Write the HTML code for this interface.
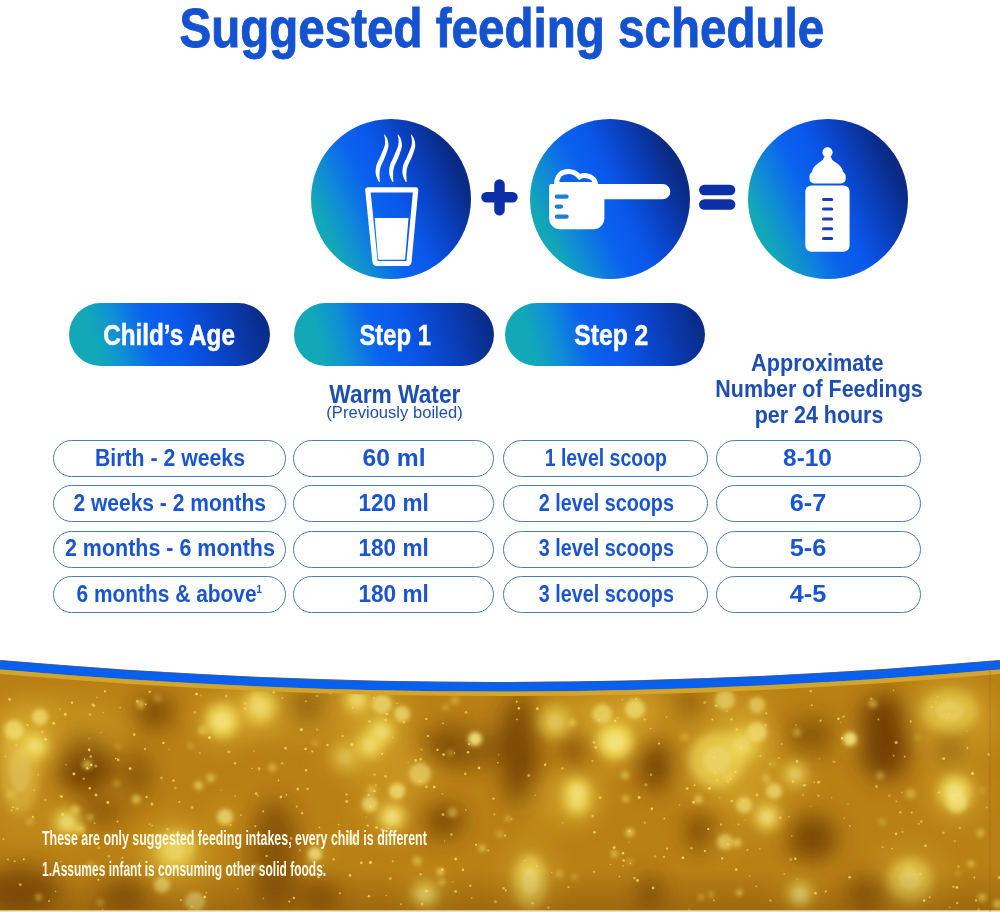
<!DOCTYPE html>
<html><head><meta charset="utf-8">
<style>
*{margin:0;padding:0;box-sizing:border-box}
html,body{width:1000px;height:912px;overflow:hidden;background:#fff}
body{position:relative;font-family:"Liberation Sans",Arial,sans-serif}
.abs{position:absolute}
.c{position:absolute;width:1000px;text-align:center;white-space:nowrap;line-height:1;font-weight:bold}
.c>span{display:inline-block;transform-origin:50% 50%}
.title{color:#1552cf;-webkit-text-stroke:0.9px #1552cf}
.ptxt{color:#fff;-webkit-text-stroke:0.5px #fff}
.sub{color:#1e4fb0}
.ctxt{color:#1a55d0}
.ctxt sup{font-size:11px;vertical-align:9px}
.circ{position:absolute;width:160px;height:160px;border-radius:50%;
 background:linear-gradient(65deg,#12a8b8 15.9%,#1088d8 28.2%,#0a62ee 41.8%,#0a58ea 53.4%,#0a42c4 67%,#0a2a84 84.1%)}
.pill{position:absolute;height:62.5px;border-radius:32px;top:303.4px;
 background:linear-gradient(75deg,#12a8b8 15%,#1090d4 26%,#0a62ee 40.8%,#0a58ea 54.6%,#0a42c4 73.1%,#0a2a84 96.1%)}
.cell{position:absolute;height:37px;border:1.7px solid #4f7cae;border-radius:19px;background:#fff}
.gold{position:absolute;left:0;top:640px;width:1000px;height:272px}
.foot{position:absolute;left:42px;color:#fffbe8;font-weight:bold;font-size:20.7px;line-height:1;white-space:nowrap;transform-origin:0 50%}
</style></head><body>

<div class="circ" style="left:311.4px;top:118.9px"></div>
<div class="circ" style="left:529.9px;top:118.9px"></div>
<div class="circ" style="left:747.8px;top:119.4px"></div>

<svg class="abs" style="left:0;top:0" width="1000" height="300" viewBox="0 0 1000 300">
 <!-- plus / equals -->
 <g stroke="#0c2fa8" stroke-width="10.5" stroke-linecap="round" fill="none">
  <line x1="486.5" y1="197.3" x2="512.5" y2="197.3"/>
  <line x1="499.5" y1="184.5" x2="499.5" y2="210.2"/>
  <line x1="704.3" y1="190" x2="730.1" y2="190"/>
  <line x1="704.3" y1="204.5" x2="730.1" y2="204.5"/>
 </g>
 <!-- glass -->
 <path d="M367.8,189.8 L415.7,189.8 L409,261.5 Q408.7,263.5 406.5,263.5 L377.5,263.5 Q375.3,263.5 375,261.5 Z" fill="none" stroke="#fff" stroke-width="5.2" stroke-linejoin="round"/>
 <path d="M374.7,218 L408.5,218 L405.2,258.5 Q405,259.8 403.8,259.8 L379.4,259.8 Q378.2,259.8 378,258.5 Z" fill="#fff"/>
 <path d="M384.57,134.47 L384.81,134.80 L385.15,135.25 L385.56,135.79 L385.99,136.39 L386.40,137.04 L386.75,137.69 L387.04,138.34 L387.31,139.02 L387.54,139.71 L387.76,140.42 L387.94,141.14 L388.09,141.86 L388.22,142.58 L388.32,143.30 L388.39,144.03 L388.43,144.78 L388.43,145.54 L388.38,146.30 L388.29,147.02 L388.17,147.71 L388.01,148.37 L387.81,149.06 L387.57,149.82 L387.27,150.72 L386.90,151.81 L386.46,153.05 L385.97,154.39 L385.45,155.77 L384.91,157.16 L384.36,158.50 L383.78,159.82 L383.15,161.15 L382.52,162.45 L381.93,163.68 L381.42,164.80 L381.01,165.78 L380.71,166.64 L380.47,167.41 L380.29,168.14 L380.14,168.84 L380.01,169.54 L379.88,170.26 L379.78,170.93 L379.71,171.53 L379.67,172.10 L379.63,172.67 L379.61,173.25 L379.59,173.85 L379.58,174.45 L379.58,175.06 L379.59,175.70 L379.62,176.35 L379.64,177.03 L379.67,177.70 L379.69,178.43 L379.72,179.22 L379.75,180.03 L379.79,180.79 L379.82,181.44 L379.84,181.90 L379.16,182.10 L378.94,181.69 L378.61,181.13 L378.24,180.47 L377.84,179.74 L377.46,179.00 L377.13,178.30 L376.86,177.64 L376.60,176.98 L376.36,176.30 L376.14,175.60 L375.95,174.88 L375.81,174.15 L375.70,173.44 L375.64,172.74 L375.61,172.02 L375.61,171.29 L375.65,170.52 L375.72,169.74 L375.79,168.96 L375.87,168.16 L376.00,167.29 L376.18,166.35 L376.43,165.33 L376.79,164.22 L377.26,163.02 L377.82,161.76 L378.44,160.47 L379.07,159.19 L379.68,157.92 L380.24,156.70 L380.78,155.45 L381.34,154.12 L381.90,152.79 L382.43,151.50 L382.91,150.31 L383.33,149.28 L383.67,148.43 L383.94,147.74 L384.16,147.18 L384.33,146.69 L384.48,146.23 L384.62,145.70 L384.76,145.13 L384.87,144.55 L384.96,143.97 L385.03,143.37 L385.08,142.75 L385.11,142.14 L385.11,141.51 L385.10,140.87 L385.06,140.21 L385.00,139.56 L384.93,138.92 L384.85,138.31 L384.75,137.68 L384.60,137.00 L384.44,136.31 L384.28,135.67 L384.13,135.13 L384.03,134.73 Z" fill="#fff"/>
 <path d="M398.07,134.47 L398.31,134.80 L398.65,135.25 L399.06,135.79 L399.49,136.39 L399.90,137.04 L400.25,137.69 L400.54,138.34 L400.81,139.02 L401.04,139.71 L401.26,140.42 L401.44,141.14 L401.59,141.86 L401.72,142.58 L401.82,143.30 L401.89,144.03 L401.93,144.78 L401.93,145.54 L401.88,146.30 L401.79,147.02 L401.67,147.71 L401.51,148.37 L401.31,149.06 L401.07,149.82 L400.77,150.72 L400.40,151.81 L399.96,153.05 L399.47,154.39 L398.95,155.77 L398.41,157.16 L397.86,158.50 L397.28,159.82 L396.65,161.15 L396.02,162.45 L395.43,163.68 L394.92,164.80 L394.51,165.78 L394.21,166.64 L393.97,167.41 L393.79,168.14 L393.64,168.84 L393.51,169.54 L393.38,170.26 L393.28,170.93 L393.21,171.53 L393.17,172.10 L393.13,172.67 L393.11,173.25 L393.09,173.85 L393.08,174.45 L393.08,175.06 L393.09,175.70 L393.12,176.35 L393.14,177.03 L393.17,177.70 L393.19,178.43 L393.22,179.22 L393.25,180.03 L393.29,180.79 L393.32,181.44 L393.34,181.90 L392.66,182.10 L392.44,181.69 L392.11,181.13 L391.74,180.47 L391.34,179.74 L390.96,179.00 L390.63,178.30 L390.36,177.64 L390.10,176.98 L389.86,176.30 L389.64,175.60 L389.45,174.88 L389.31,174.15 L389.20,173.44 L389.14,172.74 L389.11,172.02 L389.11,171.29 L389.15,170.52 L389.22,169.74 L389.29,168.96 L389.37,168.16 L389.50,167.29 L389.68,166.35 L389.93,165.33 L390.29,164.22 L390.76,163.02 L391.32,161.76 L391.94,160.47 L392.57,159.19 L393.18,157.92 L393.74,156.70 L394.28,155.45 L394.84,154.12 L395.40,152.79 L395.93,151.50 L396.41,150.31 L396.83,149.28 L397.17,148.43 L397.44,147.74 L397.66,147.18 L397.83,146.69 L397.98,146.23 L398.12,145.70 L398.26,145.13 L398.37,144.55 L398.46,143.97 L398.53,143.37 L398.58,142.75 L398.61,142.14 L398.61,141.51 L398.60,140.87 L398.56,140.21 L398.50,139.56 L398.43,138.92 L398.35,138.31 L398.25,137.68 L398.10,137.00 L397.94,136.31 L397.78,135.67 L397.63,135.13 L397.53,134.73 Z" fill="#fff"/>
 <path d="M411.37,134.47 L411.61,134.80 L411.95,135.25 L412.36,135.79 L412.79,136.39 L413.20,137.04 L413.55,137.69 L413.84,138.34 L414.11,139.02 L414.34,139.71 L414.56,140.42 L414.74,141.14 L414.89,141.86 L415.02,142.58 L415.12,143.30 L415.19,144.03 L415.23,144.78 L415.23,145.54 L415.18,146.30 L415.09,147.02 L414.97,147.71 L414.81,148.37 L414.61,149.06 L414.37,149.82 L414.07,150.72 L413.70,151.81 L413.26,153.05 L412.77,154.39 L412.25,155.77 L411.71,157.16 L411.16,158.50 L410.58,159.82 L409.95,161.15 L409.32,162.45 L408.73,163.68 L408.22,164.80 L407.81,165.78 L407.51,166.64 L407.27,167.41 L407.09,168.14 L406.94,168.84 L406.81,169.54 L406.68,170.26 L406.58,170.93 L406.51,171.53 L406.47,172.10 L406.43,172.67 L406.41,173.25 L406.39,173.85 L406.38,174.45 L406.38,175.06 L406.39,175.70 L406.42,176.35 L406.44,177.03 L406.47,177.70 L406.49,178.43 L406.52,179.22 L406.55,180.03 L406.59,180.79 L406.62,181.44 L406.64,181.90 L405.96,182.10 L405.74,181.69 L405.41,181.13 L405.04,180.47 L404.64,179.74 L404.26,179.00 L403.93,178.30 L403.66,177.64 L403.40,176.98 L403.16,176.30 L402.94,175.60 L402.75,174.88 L402.61,174.15 L402.50,173.44 L402.44,172.74 L402.41,172.02 L402.41,171.29 L402.45,170.52 L402.52,169.74 L402.59,168.96 L402.67,168.16 L402.80,167.29 L402.98,166.35 L403.23,165.33 L403.59,164.22 L404.06,163.02 L404.62,161.76 L405.24,160.47 L405.87,159.19 L406.48,157.92 L407.04,156.70 L407.58,155.45 L408.14,154.12 L408.70,152.79 L409.23,151.50 L409.71,150.31 L410.13,149.28 L410.47,148.43 L410.74,147.74 L410.96,147.18 L411.13,146.69 L411.28,146.23 L411.42,145.70 L411.56,145.13 L411.67,144.55 L411.76,143.97 L411.83,143.37 L411.88,142.75 L411.91,142.14 L411.91,141.51 L411.90,140.87 L411.86,140.21 L411.80,139.56 L411.73,138.92 L411.65,138.31 L411.55,137.68 L411.40,137.00 L411.24,136.31 L411.08,135.67 L410.93,135.13 L410.83,134.73 Z" fill="#fff"/>
 <!-- scoop -->
 <path d="M556.5,184.5 C556.5,176 561,171.6 568.5,171.6 C573.5,171.6 577,174 579.5,176.8 C581.5,175.6 583.5,175.3 586.5,175.8 C592,176.7 595.5,180 595.5,184.5 Z" fill="#0a66e6" stroke="#fff" stroke-width="5"/>
 <path d="M551,184.1 L603,184.1 L603,184.1 L662.7,184.1 A7.55,7.55 0 0 1 662.7,199.2 L604.4,199.2 L604.4,218.3 A11,11 0 0 1 593.4,229.3 L560.1,229.3 A11,11 0 0 1 549.1,218.3 L549.1,186 Q549.1,184.1 551,184.1 Z" fill="#fff"/>
 <g stroke="#1f7fcf" stroke-width="4.2" stroke-linecap="round">
  <line x1="556.8" y1="196.7" x2="566.6" y2="196.7"/>
  <line x1="556.8" y1="206.6" x2="561" y2="206.6"/>
  <line x1="556.8" y1="216.7" x2="566.6" y2="216.7"/>
 </g>
 <!-- bottle -->
 <rect x="805.3" y="185.4" width="44.3" height="66.4" rx="6" fill="#fff"/>
 <rect x="809.5" y="171.6" width="36.2" height="11.8" rx="4.5" fill="#fff"/>
 <path d="M824,156.5 C824,160.5 820,161.5 816.5,164.5 C813.5,167 812,169.5 812,173 L843,173 C843,169.5 841.5,167 838.5,164.5 C835,161.5 831,160.5 831,156.5 Z" fill="#fff"/>
 <circle cx="827.5" cy="152.3" r="5.1" fill="#fff"/>
 <g stroke="#1a3cbc" stroke-width="3" stroke-linecap="round">
  <line x1="823.5" y1="199.5" x2="831.7" y2="199.5"/>
  <line x1="823.5" y1="209.1" x2="831.7" y2="209.1"/>
  <line x1="823.5" y1="219" x2="831.7" y2="219"/>
  <line x1="823.5" y1="228.8" x2="831.7" y2="228.8"/>
  <line x1="823.5" y1="238.4" x2="831.7" y2="238.4"/>
 </g>
</svg>

<div class="pill" style="left:69.2px;width:200.8px"></div>
<div class="pill" style="left:294.2px;width:200.3px"></div>
<div class="pill" style="left:504.9px;width:200.1px"></div>

<div class="c title" style="left:1.5px;top:1.0px;font-size:55px"><span style="transform:scaleX(0.8645)">Suggested feeding schedule</span></div>
<div class="c ptxt" style="left:-331.1px;top:320.1px;font-size:29.5px"><span style="transform:scaleX(0.8228)">Child’s Age</span></div>
<div class="c ptxt" style="left:-105.0px;top:320.1px;font-size:29.5px"><span style="transform:scaleX(0.8092)">Step 1</span></div>
<div class="c ptxt" style="left:111.3px;top:320.1px;font-size:29.5px"><span style="transform:scaleX(0.8372)">Step 2</span></div>
<div class="c sub" style="left:-105.4px;top:381.2px;font-size:26px"><span style="transform:scaleX(0.8752)">Warm Water</span></div>
<div class="c sub" style="left:-105.8px;top:404.0px;font-size:17.4px;font-weight:normal"><span style="transform:scaleX(0.9532)">(Previously boiled)</span></div>
<div class="c sub" style="left:317.6px;top:350.6px;font-size:24px"><span style="transform:scaleX(0.9034)">Approximate</span></div>
<div class="c sub" style="left:318.9px;top:376.6px;font-size:24px"><span style="transform:scaleX(0.8939)">Number of Feedings</span></div>
<div class="c sub" style="left:319.0px;top:402.9px;font-size:24px"><span style="transform:scaleX(0.8936)">per 24 hours</span></div>
<div class="cell" style="left:52.5px;top:440.3px;width:233.0px"></div>
<div class="c ctxt" style="left:-330.0px;top:447.2px;font-size:23.5px"><span style="transform:scaleX(0.9049)">Birth - 2 weeks</span></div>
<div class="cell" style="left:293.4px;top:440.3px;width:200.6px"></div>
<div class="c ctxt" style="left:-105.9px;top:447.2px;font-size:23.5px"><span style="transform:scaleX(1.0491)">60 ml</span></div>
<div class="cell" style="left:503.4px;top:440.3px;width:204.6px"></div>
<div class="c ctxt" style="left:105.7px;top:447.2px;font-size:23.5px"><span style="transform:scaleX(0.8288)">1 level scoop</span></div>
<div class="cell" style="left:716.0px;top:440.3px;width:204.7px"></div>
<div class="c ctxt" style="left:307.7px;top:447.2px;font-size:23.5px"><span style="transform:scaleX(1.0378)">8-10</span></div>
<div class="cell" style="left:52.5px;top:485.2px;width:233.0px"></div>
<div class="c ctxt" style="left:-330.6px;top:492.0px;font-size:23.5px"><span style="transform:scaleX(0.8937)">2 weeks - 2 months</span></div>
<div class="cell" style="left:293.4px;top:485.2px;width:200.6px"></div>
<div class="c ctxt" style="left:-106.1px;top:492.0px;font-size:23.5px"><span style="transform:scaleX(0.9606)">120 ml</span></div>
<div class="cell" style="left:503.4px;top:485.2px;width:204.6px"></div>
<div class="c ctxt" style="left:105.9px;top:492.0px;font-size:23.5px"><span style="transform:scaleX(0.8415)">2 level scoops</span></div>
<div class="cell" style="left:716.0px;top:485.2px;width:204.7px"></div>
<div class="c ctxt" style="left:307.8px;top:492.0px;font-size:23.5px"><span style="transform:scaleX(1.0781)">6-7</span></div>
<div class="cell" style="left:52.5px;top:530.5px;width:233.0px"></div>
<div class="c ctxt" style="left:-330.4px;top:537.4px;font-size:23.5px"><span style="transform:scaleX(0.9134)">2 months - 6 months</span></div>
<div class="cell" style="left:293.4px;top:530.5px;width:200.6px"></div>
<div class="c ctxt" style="left:-106.1px;top:537.4px;font-size:23.5px"><span style="transform:scaleX(0.9606)">180 ml</span></div>
<div class="cell" style="left:503.4px;top:530.5px;width:204.6px"></div>
<div class="c ctxt" style="left:105.9px;top:537.4px;font-size:23.5px"><span style="transform:scaleX(0.8415)">3 level scoops</span></div>
<div class="cell" style="left:716.0px;top:530.5px;width:204.7px"></div>
<div class="c ctxt" style="left:307.8px;top:537.4px;font-size:23.5px"><span style="transform:scaleX(1.0781)">5-6</span></div>
<div class="cell" style="left:52.5px;top:575.6px;width:233.0px"></div>
<div class="c ctxt" style="left:-330.9px;top:582.5px;font-size:23.5px"><span style="transform:scaleX(0.8901)">6 months &amp; above<sup>1</sup></span></div>
<div class="cell" style="left:293.4px;top:575.6px;width:200.6px"></div>
<div class="c ctxt" style="left:-106.1px;top:582.5px;font-size:23.5px"><span style="transform:scaleX(0.9606)">180 ml</span></div>
<div class="cell" style="left:503.4px;top:575.6px;width:204.6px"></div>
<div class="c ctxt" style="left:105.9px;top:582.5px;font-size:23.5px"><span style="transform:scaleX(0.8415)">3 level scoops</span></div>
<div class="cell" style="left:716.0px;top:575.6px;width:204.7px"></div>
<div class="c ctxt" style="left:307.8px;top:582.5px;font-size:23.5px"><span style="transform:scaleX(1.0781)">4-5</span></div>

<svg class="gold" viewBox="0 640 1000 272" width="1000" height="272">
<defs><clipPath id="cl"><path d="M0 660 Q500 704 1000 660 L1000 912 L0 912 Z"/></clipPath><filter id="bd" x="-60%" y="-60%" width="220%" height="220%"><feGaussianBlur stdDeviation="11"/></filter><filter id="bb" x="-60%" y="-60%" width="220%" height="220%"><feGaussianBlur stdDeviation="5"/></filter><filter id="bs" x="-60%" y="-60%" width="220%" height="220%"><feGaussianBlur stdDeviation="2"/></filter><filter id="bx" x="-60%" y="-60%" width="220%" height="220%"><feGaussianBlur stdDeviation="0.6"/></filter><linearGradient id="botdark" x1="0" y1="0" x2="0" y2="1"><stop offset="0" stop-color="#5a3004" stop-opacity="0"/><stop offset="1" stop-color="#5a3004" stop-opacity="0.3"/></linearGradient></defs>
<g clip-path="url(#cl)">
<rect x="0" y="640" width="1000" height="272" fill="#b98015"/>
<g filter="url(#bd)" fill="#643404">
<ellipse cx="85" cy="765" rx="28" ry="28" opacity="0.82"/>
<ellipse cx="155" cy="712" rx="18" ry="16" opacity="0.72"/>
<ellipse cx="137" cy="775" rx="15" ry="25" opacity="0.52"/>
<ellipse cx="20" cy="890" rx="40" ry="25" opacity="0.62"/>
<ellipse cx="100" cy="812" rx="25" ry="12" opacity="0.57"/>
<ellipse cx="125" cy="896" rx="25" ry="16" opacity="0.57"/>
<ellipse cx="306" cy="707" rx="20" ry="13" opacity="0.72"/>
<ellipse cx="462" cy="746" rx="38" ry="20" opacity="0.67"/>
<ellipse cx="275" cy="856" rx="25" ry="56" opacity="0.57"/>
<ellipse cx="444" cy="821" rx="20" ry="16" opacity="0.72"/>
<ellipse cx="320" cy="896" rx="20" ry="16" opacity="0.57"/>
<ellipse cx="520" cy="750" rx="20" ry="55" opacity="0.72"/>
<ellipse cx="575" cy="748" rx="13" ry="17" opacity="0.72"/>
<ellipse cx="656" cy="765" rx="19" ry="25" opacity="0.77"/>
<ellipse cx="688" cy="707" rx="13" ry="13" opacity="0.67"/>
<ellipse cx="700" cy="831" rx="13" ry="19" opacity="0.72"/>
<ellipse cx="650" cy="893" rx="13" ry="19" opacity="0.57"/>
<ellipse cx="885" cy="737" rx="28" ry="43" opacity="0.82"/>
<ellipse cx="950" cy="748" rx="13" ry="18" opacity="0.72"/>
<ellipse cx="812" cy="736" rx="25" ry="19" opacity="0.52"/>
<ellipse cx="812" cy="838" rx="25" ry="23" opacity="0.72"/>
<ellipse cx="868" cy="893" rx="19" ry="19" opacity="0.57"/>
</g>
<g filter="url(#bd)" fill="#e8c040">
<ellipse cx="40" cy="717" rx="15.2" ry="15.2" opacity="0.28"/>
<ellipse cx="14" cy="730" rx="19.0" ry="19.0" opacity="0.28"/>
<ellipse cx="35" cy="746" rx="22.8" ry="22.8" opacity="0.30"/>
<ellipse cx="222" cy="721" rx="28.5" ry="28.5" opacity="0.33"/>
<ellipse cx="20" cy="770" rx="34.2" ry="76.0" opacity="0.14"/>
<ellipse cx="67" cy="822" rx="22.8" ry="22.8" opacity="0.24"/>
<ellipse cx="175" cy="850" rx="34.2" ry="34.2" opacity="0.24"/>
<ellipse cx="162" cy="885" rx="15.2" ry="15.2" opacity="0.24"/>
<ellipse cx="195" cy="902" rx="19.0" ry="19.0" opacity="0.24"/>
<ellipse cx="225" cy="817" rx="15.2" ry="15.2" opacity="0.24"/>
<ellipse cx="260" cy="707" rx="28.5" ry="28.5" opacity="0.28"/>
<ellipse cx="357" cy="700" rx="22.8" ry="22.8" opacity="0.24"/>
<ellipse cx="382" cy="704" rx="19.0" ry="19.0" opacity="0.24"/>
<ellipse cx="402" cy="714" rx="15.2" ry="15.2" opacity="0.24"/>
<ellipse cx="381" cy="732" rx="22.8" ry="22.8" opacity="0.28"/>
<ellipse cx="370" cy="745" rx="22.8" ry="22.8" opacity="0.28"/>
<ellipse cx="345" cy="757" rx="26.6" ry="26.6" opacity="0.12"/>
<ellipse cx="475" cy="739" rx="13.3" ry="13.3" opacity="0.32"/>
<ellipse cx="420" cy="774" rx="20.9" ry="20.9" opacity="0.21"/>
<ellipse cx="397" cy="791" rx="15.2" ry="15.2" opacity="0.28"/>
<ellipse cx="392" cy="817" rx="22.8" ry="22.8" opacity="0.28"/>
<ellipse cx="370" cy="804" rx="15.2" ry="15.2" opacity="0.24"/>
<ellipse cx="315" cy="854" rx="13.3" ry="13.3" opacity="0.28"/>
<ellipse cx="425" cy="895" rx="22.8" ry="22.8" opacity="0.26"/>
<ellipse cx="615" cy="741" rx="30.4" ry="30.4" opacity="0.35"/>
<ellipse cx="635" cy="709" rx="19.0" ry="19.0" opacity="0.28"/>
<ellipse cx="602" cy="714" rx="19.0" ry="19.0" opacity="0.24"/>
<ellipse cx="717" cy="760" rx="47.5" ry="47.5" opacity="0.24"/>
<ellipse cx="742" cy="745" rx="28.5" ry="28.5" opacity="0.24"/>
<ellipse cx="577" cy="792" rx="22.8" ry="22.8" opacity="0.32"/>
<ellipse cx="555" cy="722" rx="28.5" ry="28.5" opacity="0.17"/>
<ellipse cx="725" cy="700" rx="19.0" ry="19.0" opacity="0.21"/>
<ellipse cx="530" cy="882" rx="28.5" ry="47.5" opacity="0.24"/>
<ellipse cx="577" cy="802" rx="22.8" ry="22.8" opacity="0.24"/>
<ellipse cx="725" cy="842" rx="15.2" ry="15.2" opacity="0.21"/>
<ellipse cx="744" cy="805" rx="15.2" ry="15.2" opacity="0.24"/>
<ellipse cx="850" cy="739" rx="13.3" ry="13.3" opacity="0.32"/>
<ellipse cx="757" cy="732" rx="19.0" ry="19.0" opacity="0.28"/>
<ellipse cx="757" cy="705" rx="15.2" ry="15.2" opacity="0.21"/>
<ellipse cx="795" cy="774" rx="22.8" ry="22.8" opacity="0.17"/>
<ellipse cx="774" cy="791" rx="15.2" ry="15.2" opacity="0.24"/>
<ellipse cx="950" cy="711" rx="47.5" ry="36.1" opacity="0.21"/>
<ellipse cx="955" cy="792" rx="28.5" ry="28.5" opacity="0.30"/>
<ellipse cx="767" cy="817" rx="22.8" ry="22.8" opacity="0.24"/>
<ellipse cx="800" cy="895" rx="22.8" ry="22.8" opacity="0.24"/>
<ellipse cx="910" cy="880" rx="38.0" ry="38.0" opacity="0.21"/>
<ellipse cx="957" cy="803" rx="19.0" ry="19.0" opacity="0.24"/>
</g>
<g filter="url(#bb)" fill="#efda5c">
<ellipse cx="35" cy="746" rx="13.2" ry="13.2" opacity="0.85"/>
<ellipse cx="222" cy="721" rx="16.5" ry="16.5" opacity="0.95"/>
<ellipse cx="20" cy="770" rx="19.8" ry="44.0" opacity="0.4"/>
<ellipse cx="67" cy="822" rx="13.2" ry="13.2" opacity="0.7"/>
<ellipse cx="175" cy="850" rx="19.8" ry="19.8" opacity="0.7"/>
<ellipse cx="260" cy="707" rx="16.5" ry="16.5" opacity="0.8"/>
<ellipse cx="357" cy="700" rx="13.2" ry="13.2" opacity="0.7"/>
<ellipse cx="381" cy="732" rx="13.2" ry="13.2" opacity="0.8"/>
<ellipse cx="370" cy="745" rx="13.2" ry="13.2" opacity="0.8"/>
<ellipse cx="345" cy="757" rx="15.4" ry="15.4" opacity="0.35"/>
<ellipse cx="392" cy="817" rx="13.2" ry="13.2" opacity="0.8"/>
<ellipse cx="425" cy="895" rx="13.2" ry="13.2" opacity="0.75"/>
<ellipse cx="615" cy="741" rx="17.6" ry="17.6" opacity="1"/>
<ellipse cx="717" cy="760" rx="27.5" ry="27.5" opacity="0.7"/>
<ellipse cx="742" cy="745" rx="16.5" ry="16.5" opacity="0.7"/>
<ellipse cx="577" cy="792" rx="13.2" ry="13.2" opacity="0.9"/>
<ellipse cx="555" cy="722" rx="16.5" ry="16.5" opacity="0.5"/>
<ellipse cx="530" cy="882" rx="16.5" ry="27.5" opacity="0.7"/>
<ellipse cx="577" cy="802" rx="13.2" ry="13.2" opacity="0.7"/>
<ellipse cx="795" cy="774" rx="13.2" ry="13.2" opacity="0.5"/>
<ellipse cx="950" cy="711" rx="27.5" ry="20.9" opacity="0.6"/>
<ellipse cx="955" cy="792" rx="16.5" ry="16.5" opacity="0.85"/>
<ellipse cx="767" cy="817" rx="13.2" ry="13.2" opacity="0.7"/>
<ellipse cx="800" cy="895" rx="13.2" ry="13.2" opacity="0.7"/>
<ellipse cx="910" cy="880" rx="22.0" ry="22.0" opacity="0.6"/>
</g>
<g filter="url(#bs)" fill="#f4e27c">
<ellipse cx="40" cy="717" rx="8" ry="8" opacity="0.8"/>
<ellipse cx="14" cy="730" rx="10" ry="10" opacity="0.8"/>
<ellipse cx="162" cy="885" rx="8" ry="8" opacity="0.7"/>
<ellipse cx="195" cy="902" rx="10" ry="10" opacity="0.7"/>
<ellipse cx="225" cy="817" rx="8" ry="8" opacity="0.7"/>
<ellipse cx="382" cy="704" rx="10" ry="10" opacity="0.7"/>
<ellipse cx="402" cy="714" rx="8" ry="8" opacity="0.7"/>
<ellipse cx="475" cy="739" rx="7" ry="7" opacity="0.9"/>
<ellipse cx="420" cy="774" rx="11" ry="11" opacity="0.6"/>
<ellipse cx="397" cy="791" rx="8" ry="8" opacity="0.8"/>
<ellipse cx="370" cy="804" rx="8" ry="8" opacity="0.7"/>
<ellipse cx="315" cy="854" rx="7" ry="7" opacity="0.8"/>
<ellipse cx="635" cy="709" rx="10" ry="10" opacity="0.8"/>
<ellipse cx="602" cy="714" rx="10" ry="10" opacity="0.7"/>
<ellipse cx="725" cy="700" rx="10" ry="10" opacity="0.6"/>
<ellipse cx="725" cy="842" rx="8" ry="8" opacity="0.6"/>
<ellipse cx="744" cy="805" rx="8" ry="8" opacity="0.7"/>
<ellipse cx="850" cy="739" rx="7" ry="7" opacity="0.9"/>
<ellipse cx="757" cy="732" rx="10" ry="10" opacity="0.8"/>
<ellipse cx="757" cy="705" rx="8" ry="8" opacity="0.6"/>
<ellipse cx="774" cy="791" rx="8" ry="8" opacity="0.7"/>
<ellipse cx="957" cy="803" rx="10" ry="10" opacity="0.7"/>
<ellipse cx="35" cy="746" rx="6.6" ry="6.6" fill="#f6eb9c" opacity="0.51"/>
<ellipse cx="222" cy="721" rx="8.2" ry="8.2" fill="#f6eb9c" opacity="0.57"/>
<ellipse cx="20" cy="770" rx="9.9" ry="22.0" fill="#f6eb9c" opacity="0.24"/>
<ellipse cx="67" cy="822" rx="6.6" ry="6.6" fill="#f6eb9c" opacity="0.42"/>
<ellipse cx="175" cy="850" rx="9.9" ry="9.9" fill="#f6eb9c" opacity="0.42"/>
<ellipse cx="260" cy="707" rx="8.2" ry="8.2" fill="#f6eb9c" opacity="0.48"/>
<ellipse cx="357" cy="700" rx="6.6" ry="6.6" fill="#f6eb9c" opacity="0.42"/>
<ellipse cx="381" cy="732" rx="6.6" ry="6.6" fill="#f6eb9c" opacity="0.48"/>
<ellipse cx="370" cy="745" rx="6.6" ry="6.6" fill="#f6eb9c" opacity="0.48"/>
<ellipse cx="345" cy="757" rx="7.7" ry="7.7" fill="#f6eb9c" opacity="0.21"/>
<ellipse cx="392" cy="817" rx="6.6" ry="6.6" fill="#f6eb9c" opacity="0.48"/>
<ellipse cx="425" cy="895" rx="6.6" ry="6.6" fill="#f6eb9c" opacity="0.45"/>
<ellipse cx="615" cy="741" rx="8.8" ry="8.8" fill="#f6eb9c" opacity="0.60"/>
<ellipse cx="717" cy="760" rx="13.8" ry="13.8" fill="#f6eb9c" opacity="0.42"/>
<ellipse cx="742" cy="745" rx="8.2" ry="8.2" fill="#f6eb9c" opacity="0.42"/>
<ellipse cx="577" cy="792" rx="6.6" ry="6.6" fill="#f6eb9c" opacity="0.54"/>
<ellipse cx="555" cy="722" rx="8.2" ry="8.2" fill="#f6eb9c" opacity="0.30"/>
<ellipse cx="530" cy="882" rx="8.2" ry="13.8" fill="#f6eb9c" opacity="0.42"/>
<ellipse cx="577" cy="802" rx="6.6" ry="6.6" fill="#f6eb9c" opacity="0.42"/>
<ellipse cx="795" cy="774" rx="6.6" ry="6.6" fill="#f6eb9c" opacity="0.30"/>
<ellipse cx="950" cy="711" rx="13.8" ry="10.5" fill="#f6eb9c" opacity="0.36"/>
<ellipse cx="955" cy="792" rx="8.2" ry="8.2" fill="#f6eb9c" opacity="0.51"/>
<ellipse cx="767" cy="817" rx="6.6" ry="6.6" fill="#f6eb9c" opacity="0.42"/>
<ellipse cx="800" cy="895" rx="6.6" ry="6.6" fill="#f6eb9c" opacity="0.42"/>
<ellipse cx="910" cy="880" rx="11.0" ry="11.0" fill="#f6eb9c" opacity="0.36"/>
</g>
<rect x="0" y="870" width="1000" height="42" fill="url(#botdark)"/>
<g filter="url(#bd)" fill="#e6c23a" opacity="0.22">
<ellipse cx="60" cy="730" rx="70" ry="35"/>
<ellipse cx="300" cy="715" rx="90" ry="25"/>
<ellipse cx="620" cy="715" rx="80" ry="25"/>
<ellipse cx="740" cy="760" rx="40" ry="50"/>
<ellipse cx="950" cy="730" rx="45" ry="45"/>
<ellipse cx="380" cy="760" rx="40" ry="30"/>
<ellipse cx="175" cy="850" rx="40" ry="25"/>
<ellipse cx="560" cy="800" rx="40" ry="30"/>
</g>
<g filter="url(#bs)" fill="#f2d860">
<circle cx="452.4" cy="812.6" r="4.8" opacity="0.49"/>
<circle cx="507.8" cy="818.4" r="3.0" opacity="0.5"/>
<circle cx="629.9" cy="861.5" r="2.7" opacity="0.42"/>
<circle cx="90.7" cy="865.0" r="4.2" opacity="0.32"/>
<circle cx="982.2" cy="897.6" r="4.1" opacity="0.55"/>
<circle cx="157.5" cy="698.2" r="3.8" opacity="0.32"/>
<circle cx="190.2" cy="745.8" r="2.6" opacity="0.49"/>
<circle cx="440.5" cy="871.9" r="3.8" opacity="0.56"/>
<circle cx="499.8" cy="834.1" r="3.6" opacity="0.41"/>
<circle cx="997.7" cy="904.1" r="4.6" opacity="0.58"/>
<circle cx="315.3" cy="743.2" r="3.2" opacity="0.33"/>
<circle cx="766.3" cy="779.1" r="4.6" opacity="0.45"/>
<circle cx="958.0" cy="872.9" r="2.5" opacity="0.38"/>
<circle cx="910.3" cy="793.7" r="5.0" opacity="0.46"/>
<circle cx="73.0" cy="827.2" r="4.4" opacity="0.41"/>
<circle cx="87.1" cy="764.8" r="4.9" opacity="0.6"/>
<circle cx="118.0" cy="746.7" r="2.8" opacity="0.32"/>
<circle cx="797.0" cy="732.3" r="3.9" opacity="0.48"/>
<circle cx="190.7" cy="848.7" r="2.8" opacity="0.56"/>
<circle cx="116.5" cy="783.4" r="3.0" opacity="0.41"/>
<circle cx="970.9" cy="863.7" r="3.3" opacity="0.65"/>
<circle cx="210.7" cy="777.8" r="4.6" opacity="0.56"/>
<circle cx="100.3" cy="902.8" r="3.0" opacity="0.4"/>
<circle cx="772.7" cy="764.1" r="3.2" opacity="0.33"/>
<circle cx="90.1" cy="817.4" r="3.1" opacity="0.54"/>
<circle cx="371.7" cy="790.2" r="4.9" opacity="0.49"/>
<circle cx="574.6" cy="877.0" r="3.0" opacity="0.36"/>
<circle cx="908.4" cy="866.7" r="3.1" opacity="0.38"/>
<circle cx="739.4" cy="892.5" r="3.0" opacity="0.68"/>
<circle cx="882.2" cy="821.7" r="3.6" opacity="0.34"/>
<circle cx="38.7" cy="897.2" r="3.1" opacity="0.58"/>
<circle cx="257.0" cy="868.0" r="4.0" opacity="0.42"/>
<circle cx="175.4" cy="846.3" r="2.7" opacity="0.39"/>
<circle cx="559.4" cy="874.0" r="4.0" opacity="0.41"/>
<circle cx="917.4" cy="737.8" r="2.5" opacity="0.41"/>
<circle cx="445.7" cy="707.7" r="2.9" opacity="0.45"/>
<circle cx="572.2" cy="722.6" r="3.4" opacity="0.66"/>
<circle cx="980.5" cy="833.0" r="4.2" opacity="0.53"/>
<circle cx="140.3" cy="702.4" r="2.5" opacity="0.66"/>
<circle cx="701.0" cy="897.2" r="2.6" opacity="0.55"/>
<circle cx="482.2" cy="848.4" r="3.3" opacity="0.7"/>
<circle cx="75.3" cy="809.7" r="4.3" opacity="0.66"/>
<circle cx="737.1" cy="842.8" r="4.5" opacity="0.67"/>
<circle cx="351.8" cy="838.9" r="4.8" opacity="0.65"/>
<circle cx="417.2" cy="861.0" r="4.7" opacity="0.53"/>
<circle cx="625.0" cy="775.3" r="4.0" opacity="0.54"/>
<circle cx="80.2" cy="829.3" r="5.0" opacity="0.65"/>
<circle cx="728.2" cy="776.6" r="4.3" opacity="0.53"/>
<circle cx="440.5" cy="871.1" r="2.7" opacity="0.6"/>
<circle cx="29.8" cy="821.3" r="3.7" opacity="0.39"/>
<circle cx="698.3" cy="799.4" r="4.0" opacity="0.67"/>
<circle cx="255.8" cy="697.4" r="3.3" opacity="0.57"/>
<circle cx="202.6" cy="730.6" r="4.8" opacity="0.56"/>
<circle cx="441.9" cy="882.3" r="3.3" opacity="0.57"/>
<circle cx="198.5" cy="785.5" r="4.5" opacity="0.67"/>
<circle cx="880.3" cy="775.7" r="4.0" opacity="0.43"/>
<circle cx="136.2" cy="799.3" r="4.6" opacity="0.64"/>
<circle cx="711.2" cy="894.5" r="3.2" opacity="0.37"/>
<circle cx="450.6" cy="752.8" r="3.0" opacity="0.47"/>
<circle cx="625.7" cy="798.7" r="3.3" opacity="0.64"/>
<circle cx="982.0" cy="790.0" r="2.7" opacity="0.31"/>
<circle cx="872.8" cy="703.7" r="4.3" opacity="0.53"/>
<circle cx="309.0" cy="861.2" r="2.5" opacity="0.35"/>
<circle cx="454.8" cy="700.2" r="4.6" opacity="0.39"/>
<circle cx="140.9" cy="704.9" r="4.1" opacity="0.48"/>
<circle cx="630.0" cy="832.6" r="4.5" opacity="0.68"/>
<circle cx="684.5" cy="736.9" r="3.7" opacity="0.37"/>
<circle cx="10.8" cy="794.2" r="4.3" opacity="0.37"/>
<circle cx="272.4" cy="767.6" r="4.2" opacity="0.51"/>
<circle cx="614.4" cy="853.8" r="3.5" opacity="0.62"/>
</g>
<g filter="url(#bx)" fill="#ffd860">
<circle cx="622.9" cy="853.2" r="1.3" opacity="0.92"/>
<circle cx="739.9" cy="892.9" r="0.7" opacity="0.68"/>
<circle cx="943.4" cy="832.8" r="1.4" opacity="0.51"/>
<circle cx="469.1" cy="744.2" r="1.1" opacity="0.74"/>
<circle cx="13.1" cy="737.7" r="0.9" opacity="0.91"/>
<circle cx="765.7" cy="725.1" r="1.3" opacity="0.52"/>
<circle cx="617.5" cy="717.9" r="0.7" opacity="0.89"/>
<circle cx="209.5" cy="737.4" r="1.5" opacity="0.89"/>
<circle cx="289.3" cy="901.5" r="1.1" opacity="0.79"/>
<circle cx="204.8" cy="897.0" r="1.3" opacity="0.93"/>
<circle cx="893.7" cy="755.7" r="1.0" opacity="0.53"/>
<circle cx="145.7" cy="704.3" r="0.9" opacity="0.75"/>
<circle cx="3.4" cy="839.1" r="1.0" opacity="0.6"/>
<circle cx="818.5" cy="795.8" r="1.0" opacity="0.69"/>
<circle cx="704.7" cy="702.5" r="1.5" opacity="0.46"/>
<circle cx="749.8" cy="875.9" r="0.7" opacity="0.84"/>
<circle cx="366.2" cy="817.3" r="0.7" opacity="0.47"/>
<circle cx="180.9" cy="900.1" r="0.9" opacity="0.83"/>
<circle cx="929.7" cy="897.2" r="1.0" opacity="0.63"/>
<circle cx="524.7" cy="860.6" r="0.8" opacity="0.82"/>
<circle cx="797.2" cy="879.1" r="0.7" opacity="0.92"/>
<circle cx="91.2" cy="765.0" r="1.2" opacity="0.91"/>
<circle cx="340.0" cy="893.3" r="1.1" opacity="0.61"/>
<circle cx="316.8" cy="729.0" r="0.8" opacity="0.52"/>
<circle cx="689.2" cy="909.3" r="0.8" opacity="0.47"/>
<circle cx="986.7" cy="807.4" r="1.0" opacity="0.57"/>
<circle cx="594.0" cy="871.8" r="1.1" opacity="0.66"/>
<circle cx="55.7" cy="891.5" r="0.7" opacity="0.7"/>
<circle cx="838.4" cy="718.7" r="1.3" opacity="0.92"/>
<circle cx="630.4" cy="863.4" r="0.8" opacity="0.67"/>
<circle cx="149.2" cy="875.8" r="0.9" opacity="0.68"/>
<circle cx="999.3" cy="877.5" r="1.5" opacity="0.68"/>
<circle cx="488.2" cy="850.5" r="1.1" opacity="0.6"/>
<circle cx="403.8" cy="722.2" r="1.0" opacity="0.94"/>
<circle cx="959.8" cy="827.9" r="1.1" opacity="0.62"/>
<circle cx="89.1" cy="749.9" r="1.3" opacity="0.88"/>
<circle cx="361.3" cy="862.9" r="1.3" opacity="0.8"/>
<circle cx="664.0" cy="857.1" r="1.0" opacity="0.8"/>
<circle cx="280.9" cy="796.9" r="1.3" opacity="0.8"/>
<circle cx="293.9" cy="898.0" r="1.2" opacity="0.74"/>
<circle cx="11.6" cy="810.3" r="0.9" opacity="0.79"/>
<circle cx="462.9" cy="869.7" r="1.2" opacity="0.85"/>
<circle cx="347.9" cy="831.7" r="1.3" opacity="0.86"/>
<circle cx="350.0" cy="875.4" r="1.4" opacity="0.79"/>
<circle cx="976.1" cy="900.4" r="1.1" opacity="0.71"/>
<circle cx="166.2" cy="874.1" r="1.4" opacity="0.69"/>
<circle cx="691.4" cy="848.3" r="1.3" opacity="0.54"/>
<circle cx="780.4" cy="817.8" r="1.2" opacity="0.66"/>
<circle cx="623.7" cy="860.4" r="1.2" opacity="0.81"/>
<circle cx="27.6" cy="725.2" r="1.1" opacity="0.78"/>
<circle cx="219.0" cy="840.9" r="1.2" opacity="0.47"/>
<circle cx="471.6" cy="739.8" r="0.7" opacity="0.52"/>
<circle cx="317.4" cy="729.9" r="0.9" opacity="0.47"/>
<circle cx="465.3" cy="773.7" r="1.2" opacity="0.75"/>
<circle cx="237.8" cy="888.7" r="0.7" opacity="0.65"/>
<circle cx="278.5" cy="780.2" r="0.8" opacity="0.87"/>
<circle cx="373.9" cy="697.9" r="1.2" opacity="0.5"/>
<circle cx="545.2" cy="764.7" r="1.2" opacity="0.93"/>
<circle cx="818.5" cy="782.2" r="1.4" opacity="0.77"/>
<circle cx="369.4" cy="721.3" r="1.2" opacity="0.73"/>
<circle cx="957.2" cy="903.0" r="1.2" opacity="0.63"/>
<circle cx="893.5" cy="690.2" r="0.8" opacity="0.73"/>
<circle cx="615.2" cy="721.0" r="1.2" opacity="0.9"/>
<circle cx="375.8" cy="785.0" r="0.9" opacity="0.6"/>
<circle cx="972.5" cy="773.6" r="1.5" opacity="0.91"/>
<circle cx="595.8" cy="747.2" r="1.5" opacity="0.7"/>
<circle cx="415.5" cy="760.2" r="1.5" opacity="0.7"/>
<circle cx="286.4" cy="794.9" r="0.8" opacity="0.76"/>
<circle cx="443.5" cy="754.5" r="1.3" opacity="0.86"/>
<circle cx="13.2" cy="807.2" r="0.9" opacity="0.92"/>
<circle cx="781.9" cy="744.0" r="0.9" opacity="0.53"/>
<circle cx="988.8" cy="754.5" r="1.2" opacity="0.69"/>
<circle cx="644.9" cy="822.8" r="1.3" opacity="0.51"/>
<circle cx="760.4" cy="756.2" r="1.1" opacity="0.62"/>
<circle cx="296.8" cy="806.6" r="1.1" opacity="0.63"/>
<circle cx="745.0" cy="820.0" r="0.7" opacity="0.58"/>
<circle cx="455.6" cy="891.6" r="1.4" opacity="0.72"/>
<circle cx="14.6" cy="861.2" r="1.0" opacity="0.74"/>
<circle cx="708.2" cy="829.1" r="1.1" opacity="0.91"/>
<circle cx="385.5" cy="776.2" r="1.4" opacity="0.55"/>
<circle cx="296.4" cy="872.6" r="0.8" opacity="0.87"/>
<circle cx="694.6" cy="785.2" r="0.9" opacity="0.84"/>
<circle cx="910.7" cy="721.4" r="1.1" opacity="0.72"/>
<circle cx="497.7" cy="762.8" r="0.8" opacity="0.74"/>
<circle cx="811.8" cy="705.1" r="0.9" opacity="0.86"/>
<circle cx="791.8" cy="836.0" r="0.7" opacity="0.81"/>
<circle cx="978.7" cy="909.6" r="1.3" opacity="0.47"/>
<circle cx="842.1" cy="738.2" r="1.2" opacity="0.93"/>
<circle cx="712.4" cy="719.6" r="0.9" opacity="0.91"/>
<circle cx="149.7" cy="824.3" r="1.0" opacity="0.53"/>
<circle cx="622.4" cy="699.6" r="0.8" opacity="0.64"/>
<circle cx="72.0" cy="702.7" r="1.2" opacity="0.82"/>
<circle cx="878.5" cy="719.6" r="1.0" opacity="0.61"/>
<circle cx="600.2" cy="797.7" r="1.5" opacity="0.64"/>
<circle cx="55.8" cy="843.4" r="0.8" opacity="0.77"/>
<circle cx="505.8" cy="890.3" r="1.1" opacity="0.76"/>
<circle cx="263.2" cy="811.4" r="0.9" opacity="0.83"/>
<circle cx="517.0" cy="719.4" r="0.9" opacity="0.64"/>
<circle cx="736.8" cy="729.5" r="1.3" opacity="0.78"/>
<circle cx="85.2" cy="836.9" r="0.8" opacity="0.51"/>
<circle cx="594.0" cy="742.5" r="1.4" opacity="0.69"/>
<circle cx="323.3" cy="865.2" r="0.7" opacity="0.81"/>
<circle cx="53.7" cy="723.2" r="1.5" opacity="0.79"/>
<circle cx="223.1" cy="715.5" r="1.5" opacity="0.78"/>
<circle cx="820.6" cy="720.7" r="1.2" opacity="0.63"/>
<circle cx="235.0" cy="763.3" r="1.2" opacity="0.62"/>
<circle cx="385.7" cy="720.0" r="1.4" opacity="0.77"/>
<circle cx="804.5" cy="785.3" r="1.4" opacity="0.71"/>
<circle cx="592.6" cy="816.1" r="1.3" opacity="0.65"/>
<circle cx="97.0" cy="697.3" r="0.9" opacity="0.47"/>
<circle cx="889.3" cy="795.8" r="1.3" opacity="0.45"/>
<circle cx="470.2" cy="885.8" r="1.2" opacity="0.66"/>
<circle cx="465.6" cy="711.9" r="0.8" opacity="0.53"/>
<circle cx="374.6" cy="774.8" r="1.4" opacity="0.53"/>
<circle cx="254.1" cy="751.0" r="0.8" opacity="0.59"/>
<circle cx="235.2" cy="796.0" r="0.7" opacity="0.91"/>
<circle cx="369.0" cy="896.3" r="1.3" opacity="0.79"/>
<circle cx="471.7" cy="898.0" r="0.8" opacity="0.78"/>
<circle cx="291.1" cy="838.4" r="1.3" opacity="0.53"/>
<circle cx="201.0" cy="695.5" r="0.9" opacity="0.49"/>
<circle cx="401.1" cy="904.2" r="1.0" opacity="0.61"/>
<circle cx="468.0" cy="752.3" r="1.3" opacity="0.81"/>
<circle cx="163.4" cy="742.9" r="1.2" opacity="0.92"/>
<circle cx="645.9" cy="784.7" r="1.5" opacity="0.45"/>
<circle cx="60.9" cy="861.4" r="1.0" opacity="0.47"/>
<circle cx="548.4" cy="907.7" r="1.1" opacity="0.63"/>
<circle cx="93.8" cy="705.7" r="1.4" opacity="0.7"/>
<circle cx="935.7" cy="701.8" r="0.9" opacity="0.48"/>
<circle cx="397.3" cy="703.2" r="0.9" opacity="0.65"/>
<circle cx="305.9" cy="701.3" r="0.7" opacity="0.94"/>
<circle cx="179.4" cy="801.9" r="1.0" opacity="0.72"/>
<circle cx="84.4" cy="759.1" r="0.8" opacity="0.72"/>
<circle cx="921.3" cy="821.6" r="1.4" opacity="0.56"/>
<circle cx="17.4" cy="808.7" r="1.1" opacity="0.74"/>
<circle cx="376.6" cy="827.5" r="1.3" opacity="0.91"/>
<circle cx="307.6" cy="788.8" r="1.4" opacity="0.56"/>
<circle cx="115.7" cy="758.6" r="0.8" opacity="0.84"/>
<circle cx="819.4" cy="758.8" r="0.8" opacity="0.49"/>
<circle cx="244.8" cy="708.6" r="1.0" opacity="0.74"/>
<circle cx="245.4" cy="703.5" r="1.3" opacity="0.47"/>
<circle cx="199.9" cy="752.9" r="1.0" opacity="0.5"/>
<circle cx="420.6" cy="759.1" r="1.3" opacity="0.73"/>
<circle cx="896.1" cy="833.9" r="1.3" opacity="0.74"/>
<circle cx="442.2" cy="869.7" r="1.2" opacity="0.93"/>
<circle cx="728.0" cy="844.3" r="0.9" opacity="0.86"/>
<circle cx="382.4" cy="718.7" r="0.8" opacity="0.53"/>
<circle cx="262.6" cy="838.7" r="0.9" opacity="0.48"/>
<circle cx="763.8" cy="812.6" r="0.7" opacity="0.48"/>
<circle cx="130.1" cy="768.6" r="1.4" opacity="0.92"/>
<circle cx="612.0" cy="740.8" r="1.0" opacity="0.63"/>
<circle cx="330.4" cy="692.7" r="1.2" opacity="0.86"/>
<circle cx="726.8" cy="711.0" r="1.1" opacity="0.54"/>
<circle cx="709.4" cy="788.2" r="1.5" opacity="0.85"/>
<circle cx="118.2" cy="759.8" r="1.4" opacity="0.68"/>
<circle cx="434.2" cy="787.1" r="1.3" opacity="0.92"/>
<circle cx="532.6" cy="903.3" r="1.2" opacity="0.5"/>
<circle cx="814.3" cy="782.3" r="0.7" opacity="0.94"/>
<circle cx="32.9" cy="816.9" r="1.1" opacity="0.89"/>
<circle cx="392.7" cy="737.4" r="0.9" opacity="0.55"/>
<circle cx="562.4" cy="768.5" r="1.3" opacity="0.57"/>
<circle cx="351.8" cy="744.6" r="1.5" opacity="0.87"/>
<circle cx="849.8" cy="826.0" r="1.0" opacity="0.52"/>
<circle cx="831.7" cy="797.8" r="0.7" opacity="0.53"/>
<circle cx="98.7" cy="847.9" r="1.4" opacity="0.55"/>
<circle cx="797.0" cy="761.3" r="1.2" opacity="0.88"/>
<circle cx="623.1" cy="866.1" r="1.0" opacity="0.46"/>
<circle cx="511.7" cy="819.1" r="0.8" opacity="0.64"/>
<circle cx="317.2" cy="696.0" r="0.9" opacity="0.64"/>
<circle cx="476.1" cy="844.7" r="1.0" opacity="0.94"/>
<circle cx="815.5" cy="893.3" r="1.3" opacity="0.79"/>
<circle cx="536.7" cy="865.7" r="1.0" opacity="0.75"/>
<circle cx="679.5" cy="804.9" r="0.9" opacity="0.49"/>
<circle cx="87.3" cy="768.3" r="1.2" opacity="0.83"/>
<circle cx="714.5" cy="757.5" r="1.4" opacity="0.59"/>
<circle cx="716.1" cy="705.8" r="1.3" opacity="0.78"/>
<circle cx="956.9" cy="887.4" r="1.3" opacity="0.87"/>
<circle cx="738.6" cy="824.4" r="0.9" opacity="0.71"/>
<circle cx="896.1" cy="742.6" r="1.5" opacity="0.72"/>
<circle cx="393.4" cy="690.7" r="1.0" opacity="0.54"/>
<circle cx="653.1" cy="887.9" r="1.4" opacity="0.76"/>
<circle cx="386.7" cy="714.0" r="1.3" opacity="0.73"/>
<circle cx="715.3" cy="772.3" r="1.4" opacity="0.56"/>
<circle cx="305.6" cy="748.9" r="1.2" opacity="0.9"/>
<circle cx="167.4" cy="829.2" r="1.3" opacity="0.56"/>
<circle cx="62.7" cy="814.5" r="1.4" opacity="0.89"/>
<circle cx="728.0" cy="781.7" r="1.0" opacity="0.71"/>
<circle cx="904.7" cy="756.5" r="0.9" opacity="0.75"/>
<circle cx="966.6" cy="731.2" r="0.7" opacity="0.51"/>
<circle cx="562.6" cy="822.8" r="0.8" opacity="0.55"/>
<circle cx="594.5" cy="832.2" r="1.3" opacity="0.81"/>
<circle cx="61.4" cy="796.6" r="1.4" opacity="0.93"/>
<circle cx="318.4" cy="877.1" r="1.2" opacity="0.91"/>
<circle cx="229.1" cy="843.3" r="1.4" opacity="0.69"/>
<circle cx="100.8" cy="732.6" r="0.8" opacity="0.5"/>
<circle cx="152.0" cy="825.5" r="0.8" opacity="0.83"/>
<circle cx="736.2" cy="869.6" r="1.3" opacity="0.81"/>
<circle cx="924.1" cy="900.5" r="1.2" opacity="0.93"/>
<circle cx="103.3" cy="712.6" r="0.8" opacity="0.55"/>
<circle cx="374.4" cy="790.9" r="1.2" opacity="0.82"/>
<circle cx="83.8" cy="778.7" r="1.1" opacity="0.64"/>
<circle cx="117.5" cy="821.4" r="1.0" opacity="0.79"/>
<circle cx="495.5" cy="901.8" r="1.5" opacity="0.49"/>
<circle cx="759.8" cy="848.7" r="0.9" opacity="0.51"/>
<circle cx="479.0" cy="767.9" r="1.3" opacity="0.91"/>
<circle cx="382.1" cy="753.9" r="1.1" opacity="0.8"/>
<circle cx="789.0" cy="816.6" r="0.9" opacity="0.62"/>
<circle cx="848.0" cy="804.2" r="0.7" opacity="0.66"/>
<circle cx="237.8" cy="836.6" r="0.8" opacity="0.59"/>
<circle cx="96.0" cy="795.1" r="1.5" opacity="0.72"/>
<circle cx="386.3" cy="895.5" r="0.8" opacity="0.63"/>
<circle cx="810.8" cy="691.1" r="1.3" opacity="0.63"/>
<circle cx="16.4" cy="745.2" r="1.1" opacity="0.64"/>
<circle cx="516.8" cy="701.7" r="0.9" opacity="0.94"/>
<circle cx="442.6" cy="793.8" r="0.8" opacity="0.59"/>
<circle cx="954.8" cy="841.2" r="1.1" opacity="0.48"/>
<circle cx="392.7" cy="861.3" r="1.0" opacity="0.75"/>
<circle cx="902.4" cy="831.9" r="1.2" opacity="0.47"/>
<circle cx="23.8" cy="859.3" r="1.0" opacity="0.89"/>
<circle cx="825.7" cy="891.4" r="1.0" opacity="0.95"/>
<circle cx="756.2" cy="886.2" r="0.8" opacity="0.84"/>
<circle cx="422.1" cy="903.9" r="1.5" opacity="0.56"/>
<circle cx="421.4" cy="749.6" r="1.1" opacity="0.59"/>
<circle cx="666.5" cy="717.1" r="0.8" opacity="0.68"/>
<circle cx="73.9" cy="773.9" r="1.4" opacity="0.89"/>
<circle cx="196.5" cy="694.1" r="1.4" opacity="0.93"/>
<circle cx="598.9" cy="720.0" r="0.9" opacity="0.91"/>
<circle cx="937.6" cy="696.8" r="0.8" opacity="0.66"/>
<circle cx="266.7" cy="855.9" r="1.0" opacity="0.84"/>
<circle cx="152.0" cy="804.0" r="1.5" opacity="0.8"/>
<circle cx="90.1" cy="714.4" r="1.2" opacity="0.64"/>
<circle cx="368.7" cy="795.1" r="1.2" opacity="0.93"/>
<circle cx="240.9" cy="815.1" r="0.9" opacity="0.72"/>
<circle cx="731.4" cy="719.4" r="1.1" opacity="0.8"/>
<circle cx="8.1" cy="859.6" r="1.0" opacity="0.7"/>
<circle cx="610.5" cy="864.4" r="0.7" opacity="0.7"/>
<circle cx="38.3" cy="774.8" r="1.0" opacity="0.46"/>
<circle cx="297.7" cy="789.0" r="1.2" opacity="0.91"/>
<circle cx="370.5" cy="806.6" r="1.3" opacity="0.92"/>
<circle cx="949.7" cy="907.4" r="0.9" opacity="0.53"/>
<circle cx="931.9" cy="707.0" r="1.1" opacity="0.82"/>
<circle cx="528.7" cy="775.5" r="1.4" opacity="0.6"/>
<circle cx="551.7" cy="872.5" r="0.8" opacity="0.63"/>
<circle cx="494.3" cy="814.5" r="0.9" opacity="0.68"/>
<circle cx="59.8" cy="709.3" r="1.0" opacity="0.52"/>
<circle cx="967.5" cy="747.9" r="0.9" opacity="0.84"/>
<circle cx="741.2" cy="747.7" r="1.4" opacity="0.76"/>
<circle cx="388.6" cy="828.3" r="0.9" opacity="0.58"/>
<circle cx="876.5" cy="786.5" r="1.4" opacity="0.54"/>
<circle cx="137.3" cy="701.4" r="1.3" opacity="0.73"/>
<circle cx="9.6" cy="699.5" r="1.4" opacity="0.7"/>
<circle cx="871.3" cy="698.7" r="1.2" opacity="0.51"/>
<circle cx="721.1" cy="824.5" r="1.2" opacity="0.56"/>
<circle cx="949.0" cy="714.4" r="0.8" opacity="0.79"/>
<circle cx="92.8" cy="704.7" r="1.1" opacity="0.77"/>
<circle cx="892.1" cy="848.6" r="0.8" opacity="0.77"/>
<circle cx="843.6" cy="716.5" r="1.3" opacity="0.58"/>
<circle cx="298.6" cy="690.3" r="1.3" opacity="0.71"/>
<circle cx="902.0" cy="792.4" r="0.8" opacity="0.56"/>
<circle cx="263.4" cy="898.3" r="0.9" opacity="0.49"/>
<circle cx="352.7" cy="707.4" r="1.0" opacity="0.76"/>
<circle cx="650.6" cy="728.5" r="0.8" opacity="0.7"/>
<circle cx="687.2" cy="788.4" r="1.2" opacity="0.91"/>
<circle cx="145.1" cy="748.9" r="1.1" opacity="0.72"/>
<circle cx="900.2" cy="812.2" r="1.2" opacity="0.66"/>
<circle cx="784.3" cy="873.9" r="0.9" opacity="0.5"/>
<circle cx="259.2" cy="768.7" r="1.4" opacity="0.58"/>
<circle cx="629.4" cy="830.9" r="1.5" opacity="0.51"/>
<circle cx="769.9" cy="764.0" r="0.8" opacity="0.77"/>
<circle cx="844.3" cy="818.1" r="0.7" opacity="0.94"/>
<circle cx="384.1" cy="830.0" r="1.3" opacity="0.58"/>
<circle cx="408.3" cy="762.4" r="0.8" opacity="0.48"/>
<circle cx="716.9" cy="780.3" r="1.4" opacity="0.48"/>
<circle cx="301.4" cy="729.6" r="1.5" opacity="0.85"/>
<circle cx="896.3" cy="801.4" r="0.8" opacity="0.66"/>
<circle cx="226.2" cy="695.9" r="1.2" opacity="0.59"/>
<circle cx="107.9" cy="802.5" r="1.4" opacity="0.92"/>
<circle cx="466.1" cy="712.6" r="1.3" opacity="0.51"/>
<circle cx="537.4" cy="708.4" r="1.5" opacity="0.72"/>
<circle cx="437.5" cy="749.9" r="1.1" opacity="0.94"/>
<circle cx="427.9" cy="736.0" r="1.1" opacity="0.91"/>
<circle cx="381.8" cy="829.4" r="1.4" opacity="0.61"/>
<circle cx="810.9" cy="806.4" r="0.8" opacity="0.48"/>
<circle cx="939.0" cy="792.5" r="1.1" opacity="0.91"/>
<circle cx="574.0" cy="800.0" r="0.9" opacity="0.82"/>
<circle cx="256.2" cy="793.5" r="1.3" opacity="0.75"/>
<circle cx="134.2" cy="734.6" r="1.3" opacity="0.81"/>
<circle cx="102.6" cy="909.5" r="0.8" opacity="0.53"/>
<circle cx="89.7" cy="788.2" r="1.2" opacity="0.88"/>
<circle cx="163.2" cy="843.7" r="0.8" opacity="0.74"/>
<circle cx="251.9" cy="768.4" r="0.7" opacity="0.81"/>
<circle cx="122.3" cy="858.1" r="1.0" opacity="0.75"/>
<circle cx="639.1" cy="797.5" r="1.4" opacity="0.91"/>
<circle cx="282.1" cy="763.4" r="1.4" opacity="0.52"/>
<circle cx="420.1" cy="781.2" r="1.5" opacity="0.51"/>
<circle cx="655.1" cy="856.5" r="1.3" opacity="0.45"/>
<circle cx="943.7" cy="758.7" r="1.4" opacity="0.78"/>
<circle cx="420.8" cy="874.3" r="1.2" opacity="0.62"/>
<circle cx="731.8" cy="801.1" r="1.3" opacity="0.76"/>
<circle cx="796.0" cy="725.0" r="1.1" opacity="0.45"/>
<circle cx="790.8" cy="859.7" r="1.4" opacity="0.47"/>
<circle cx="535.2" cy="795.3" r="0.8" opacity="0.55"/>
<circle cx="974.4" cy="877.6" r="0.9" opacity="0.86"/>
<circle cx="651.0" cy="774.7" r="1.2" opacity="0.56"/>
<circle cx="273.8" cy="692.2" r="1.2" opacity="0.74"/>
<circle cx="743.4" cy="800.8" r="1.0" opacity="0.6"/>
<circle cx="735.3" cy="772.0" r="1.2" opacity="0.83"/>
<circle cx="444.5" cy="841.0" r="0.7" opacity="0.58"/>
<circle cx="840.6" cy="722.4" r="0.7" opacity="0.46"/>
<circle cx="766.1" cy="713.4" r="1.1" opacity="0.67"/>
<circle cx="802.9" cy="794.9" r="1.1" opacity="0.46"/>
<circle cx="795.3" cy="858.8" r="1.2" opacity="0.87"/>
<circle cx="614.1" cy="847.5" r="1.4" opacity="0.76"/>
<circle cx="20.3" cy="884.6" r="1.5" opacity="0.55"/>
<circle cx="66.1" cy="764.8" r="0.8" opacity="0.63"/>
<circle cx="89.2" cy="738.4" r="0.7" opacity="0.66"/>
<circle cx="300.0" cy="850.3" r="1.0" opacity="0.53"/>
<circle cx="953.4" cy="886.8" r="1.3" opacity="0.56"/>
<circle cx="402.6" cy="789.2" r="1.0" opacity="0.46"/>
<circle cx="455.7" cy="858.9" r="1.3" opacity="0.88"/>
<circle cx="682.9" cy="857.8" r="1.4" opacity="0.91"/>
<circle cx="793.0" cy="781.5" r="1.2" opacity="0.78"/>
<circle cx="882.7" cy="847.0" r="1.1" opacity="0.55"/>
<circle cx="327.5" cy="745.1" r="1.2" opacity="0.83"/>
<circle cx="192.1" cy="807.4" r="1.4" opacity="0.63"/>
<circle cx="94.7" cy="823.2" r="1.0" opacity="0.52"/>
<circle cx="288.0" cy="691.5" r="0.8" opacity="0.66"/>
<circle cx="104.9" cy="691.3" r="1.1" opacity="0.93"/>
<circle cx="834.0" cy="761.8" r="1.4" opacity="0.49"/>
<circle cx="150.4" cy="691.5" r="0.7" opacity="0.75"/>
<circle cx="757.0" cy="795.1" r="1.3" opacity="0.68"/>
<circle cx="918.7" cy="823.8" r="1.1" opacity="0.54"/>
<circle cx="426.5" cy="786.9" r="1.4" opacity="0.56"/>
<circle cx="294.7" cy="869.7" r="0.8" opacity="0.72"/>
<circle cx="219.6" cy="836.3" r="1.2" opacity="0.5"/>
<circle cx="730.2" cy="779.6" r="1.0" opacity="0.88"/>
<circle cx="778.8" cy="758.1" r="1.2" opacity="0.51"/>
<circle cx="518.9" cy="708.2" r="1.2" opacity="0.91"/>
<circle cx="636.3" cy="699.0" r="1.1" opacity="0.68"/>
<circle cx="443.1" cy="723.3" r="0.9" opacity="0.67"/>
<circle cx="71.1" cy="838.4" r="0.9" opacity="0.6"/>
<circle cx="90.8" cy="756.6" r="1.4" opacity="0.6"/>
<circle cx="95.9" cy="766.1" r="1.5" opacity="0.49"/>
<circle cx="342.5" cy="736.0" r="1.2" opacity="0.68"/>
<circle cx="98.3" cy="879.7" r="1.0" opacity="0.79"/>
<circle cx="452.8" cy="881.8" r="0.7" opacity="0.56"/>
<circle cx="285.6" cy="748.2" r="1.4" opacity="0.7"/>
<circle cx="346.7" cy="801.5" r="1.4" opacity="0.73"/>
<circle cx="451.4" cy="834.5" r="1.2" opacity="0.65"/>
<circle cx="426.3" cy="719.0" r="1.1" opacity="0.89"/>
<circle cx="306.0" cy="770.3" r="1.2" opacity="0.75"/>
<circle cx="175.4" cy="788.1" r="1.3" opacity="0.47"/>
<circle cx="108.8" cy="856.2" r="1.4" opacity="0.48"/>
<circle cx="81.4" cy="827.8" r="0.9" opacity="0.78"/>
<circle cx="34.2" cy="790.4" r="0.8" opacity="0.62"/>
<circle cx="693.5" cy="802.2" r="1.4" opacity="0.87"/>
<circle cx="619.4" cy="876.5" r="0.8" opacity="0.69"/>
<circle cx="319.6" cy="827.5" r="0.8" opacity="0.89"/>
<circle cx="370.5" cy="862.4" r="1.5" opacity="0.92"/>
<circle cx="390.2" cy="878.5" r="1.5" opacity="0.52"/>
<circle cx="747.5" cy="850.0" r="1.1" opacity="0.59"/>
<circle cx="173.4" cy="780.6" r="1.4" opacity="0.65"/>
<circle cx="255.4" cy="826.3" r="1.0" opacity="0.76"/>
<circle cx="454.5" cy="753.0" r="0.7" opacity="0.86"/>
<circle cx="659.0" cy="743.6" r="1.1" opacity="0.74"/>
<circle cx="503.6" cy="888.2" r="1.3" opacity="0.6"/>
<circle cx="338.7" cy="824.6" r="0.8" opacity="0.92"/>
<circle cx="45.4" cy="799.9" r="0.9" opacity="0.71"/>
<circle cx="45.6" cy="739.3" r="1.5" opacity="0.84"/>
<circle cx="221.0" cy="790.3" r="0.7" opacity="0.51"/>
<circle cx="191.8" cy="906.5" r="0.9" opacity="0.57"/>
<circle cx="65.3" cy="714.2" r="1.5" opacity="0.82"/>
<circle cx="920.3" cy="873.9" r="1.3" opacity="0.58"/>
<circle cx="169.1" cy="749.4" r="0.8" opacity="0.54"/>
<circle cx="719.9" cy="798.0" r="0.7" opacity="0.6"/>
<circle cx="849.6" cy="877.2" r="1.3" opacity="0.82"/>
<circle cx="911.8" cy="812.6" r="1.0" opacity="0.74"/>
<circle cx="282.4" cy="698.0" r="0.9" opacity="0.68"/>
<circle cx="120.2" cy="707.7" r="0.9" opacity="0.63"/>
<circle cx="957.1" cy="797.1" r="1.4" opacity="0.82"/>
<circle cx="592.4" cy="760.9" r="1.0" opacity="0.61"/>
<circle cx="634.3" cy="878.1" r="1.3" opacity="0.6"/>
<circle cx="149.5" cy="692.0" r="1.2" opacity="0.56"/>
<circle cx="5.5" cy="756.5" r="0.9" opacity="0.55"/>
<circle cx="664.4" cy="818.6" r="0.9" opacity="0.82"/>
<circle cx="206.5" cy="892.7" r="0.8" opacity="0.75"/>
<circle cx="704.9" cy="851.1" r="1.1" opacity="0.89"/>
<circle cx="629.1" cy="842.0" r="0.8" opacity="0.54"/>
<circle cx="465.8" cy="810.0" r="0.8" opacity="0.82"/>
<circle cx="346.6" cy="794.5" r="1.1" opacity="0.87"/>
<circle cx="302.1" cy="813.1" r="1.2" opacity="0.78"/>
<circle cx="312.2" cy="751.4" r="1.1" opacity="0.75"/>
<circle cx="644.7" cy="719.4" r="1.1" opacity="0.73"/>
<circle cx="194.7" cy="712.5" r="1.4" opacity="0.46"/>
<circle cx="498.7" cy="754.8" r="0.7" opacity="0.58"/>
<circle cx="161.4" cy="778.0" r="1.4" opacity="0.49"/>
<circle cx="351.7" cy="842.9" r="1.2" opacity="0.46"/>
<circle cx="228.8" cy="751.8" r="1.4" opacity="0.67"/>
<circle cx="257.6" cy="795.6" r="1.1" opacity="0.52"/>
<circle cx="667.1" cy="848.6" r="1.1" opacity="0.72"/>
<circle cx="770.5" cy="900.4" r="1.2" opacity="0.47"/>
<circle cx="505.1" cy="835.7" r="1.0" opacity="0.79"/>
<circle cx="367.8" cy="825.6" r="1.2" opacity="0.79"/>
<circle cx="925.5" cy="845.7" r="1.3" opacity="0.8"/>
<circle cx="230.6" cy="825.1" r="1.2" opacity="0.48"/>
<circle cx="754.3" cy="739.9" r="1.1" opacity="0.71"/>
<circle cx="722.2" cy="858.4" r="1.1" opacity="0.92"/>
<circle cx="443.0" cy="814.6" r="1.5" opacity="0.61"/>
<circle cx="714.0" cy="900.4" r="0.8" opacity="0.84"/>
<circle cx="651.9" cy="808.7" r="1.3" opacity="0.88"/>
<circle cx="146.6" cy="797.0" r="1.2" opacity="0.8"/>
<circle cx="958.5" cy="866.6" r="1.4" opacity="0.48"/>
<circle cx="426.3" cy="890.9" r="1.5" opacity="0.83"/>
<circle cx="333.6" cy="859.4" r="1.1" opacity="0.78"/>
<circle cx="637.5" cy="880.4" r="1.3" opacity="0.94"/>
<circle cx="493.5" cy="798.6" r="1.2" opacity="0.73"/>
<circle cx="49.1" cy="901.0" r="1.0" opacity="0.7"/>
<circle cx="42.4" cy="731.9" r="1.4" opacity="0.59"/>
<circle cx="298.6" cy="868.6" r="0.9" opacity="0.78"/>
<circle cx="568.4" cy="887.2" r="1.1" opacity="0.61"/>
<circle cx="259.1" cy="770.0" r="0.7" opacity="0.51"/>
</g>
</g>
<path d="M0 665 Q500 709 1000 665" stroke="#0a60ee" stroke-width="9" fill="none"/>
<path d="M0 660.6 Q500 704.6 1000 660.6" stroke="#1d4fb0" stroke-width="0.9" fill="none" opacity="0.7"/>
<path d="M0 671.8 Q500 715.8 1000 671.8" stroke="#d2a52c" stroke-width="4.5" fill="none"/>
<rect x="0" y="910.3" width="1000" height="1.7" fill="#f3e2b0"/>
<rect x="989.5" y="660" width="1" height="252" fill="#8a5a10" opacity="0.35"/>
</svg>

<div class="foot" style="top:828.2px;transform:scaleX(0.5998)">These are only suggested feeding intakes, every child is different</div>
<div class="foot" style="top:858.6px;transform:scaleX(0.5803)">1.Assumes infant is consuming other solid foods.</div>
</body></html>
